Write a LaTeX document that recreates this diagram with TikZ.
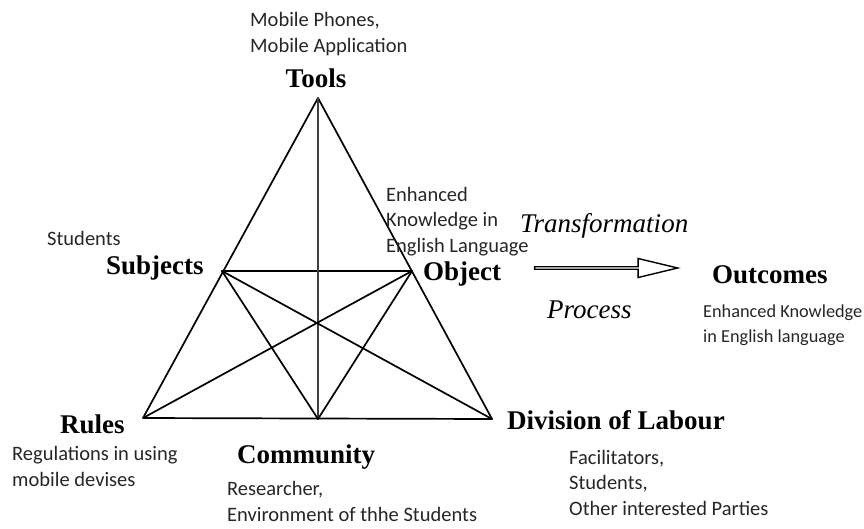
\documentclass[tikz,border=0pt]{standalone}
\usepackage{fontspec}
\setmainfont{Liberation Serif}
\newfontfamily\calib{Carlito}
\usetikzlibrary{shapes.arrows}

\tikzset{
  role/.style={font=\fontsize{27}{30}\selectfont\bfseries, inner sep=0pt, anchor=base west},
  flow/.style={font=\fontsize{27}{30}\selectfont\itshape, inner sep=0pt, anchor=base west},
  note/.style={font=\calib\fontsize{20.5}{25.5}\selectfont, inner sep=0pt, anchor=base west, align=left, text=black!85},
  edge/.style={line width=1.7pt, line join=round, line cap=round},
}

\begin{document}
\begin{tikzpicture}[x=1pt,y=-1pt]
	\useasboundingbox (0,0) rectangle (864,528);
	
	% corners of the activity triangle
	\coordinate (tools) at (318,98);
	\coordinate (subj) at (222,271);
	\coordinate (obj) at (412,271);
	\coordinate (rules) at (143,418);
	\coordinate (comm) at (318,419);
	\coordinate (div) at (492,419);
	
	\draw [edge] (tools) -- (rules) -- (div) -- cycle;
	\draw [edge] (subj) -- (obj);
	\draw [edge, black!75] (tools) -- (comm);
	\foreach \A/\B in {subj/div,obj/rules,subj/comm,obj/comm}
		\draw [edge] (\A) -- (\B);
	
	% labels of the corners
	\node [role, anchor=base] (toolsl) at (316,87) {Tools};
	\node [role] (subjl) at (106,274) {Subjects};
	\node [role] (objl) at (423,280) {Object};
	\node [role] (rulesl) at (60,433) {Rules};
	\node [role] (comml) at (237,463) {Community};
	\node [role] (divl) at (507,429) {Division of Labour};
	\node [role] (outl) at (712,283) {Outcomes};
	
	% what stands for each corner (base = last line)
	\node [note] (toolsn) at (250,52) {Mobile Phones,\\Mobile Application};
	\node [note] (subjn) at (47,245) {Students};
	\node [note] (objn) at (386,252) {Enhanced\\Knowledge in\\English Language};
	\node [note] (rulesn) at (12,486) {Regulations in using\\mobile devises};
	\node [note] (commn) at (227,521) {Researcher,\\Environment of thhe Students};
	\node [note] (divn) at (569,515) {Facilitators,\\Students,\\Other interested Parties};
	\node [note, font=\calib\fontsize{18.3}{25}\selectfont] (outn) at (703,342) {Enhanced Knowledge\\in English language};
	
	% transformation process
	\node [flow] (trans) at (520,232) {Transformation};
	\node [flow] (proc) at (547,318) {Process};
	\node [single arrow, draw, line width=1.4pt, inner sep=0pt,
		minimum height=143pt, minimum width=19pt,
		single arrow head extend=4.5pt, single arrow tip angle=27] (shift) at (603.5,268) {};
\end{tikzpicture}
\end{document}
